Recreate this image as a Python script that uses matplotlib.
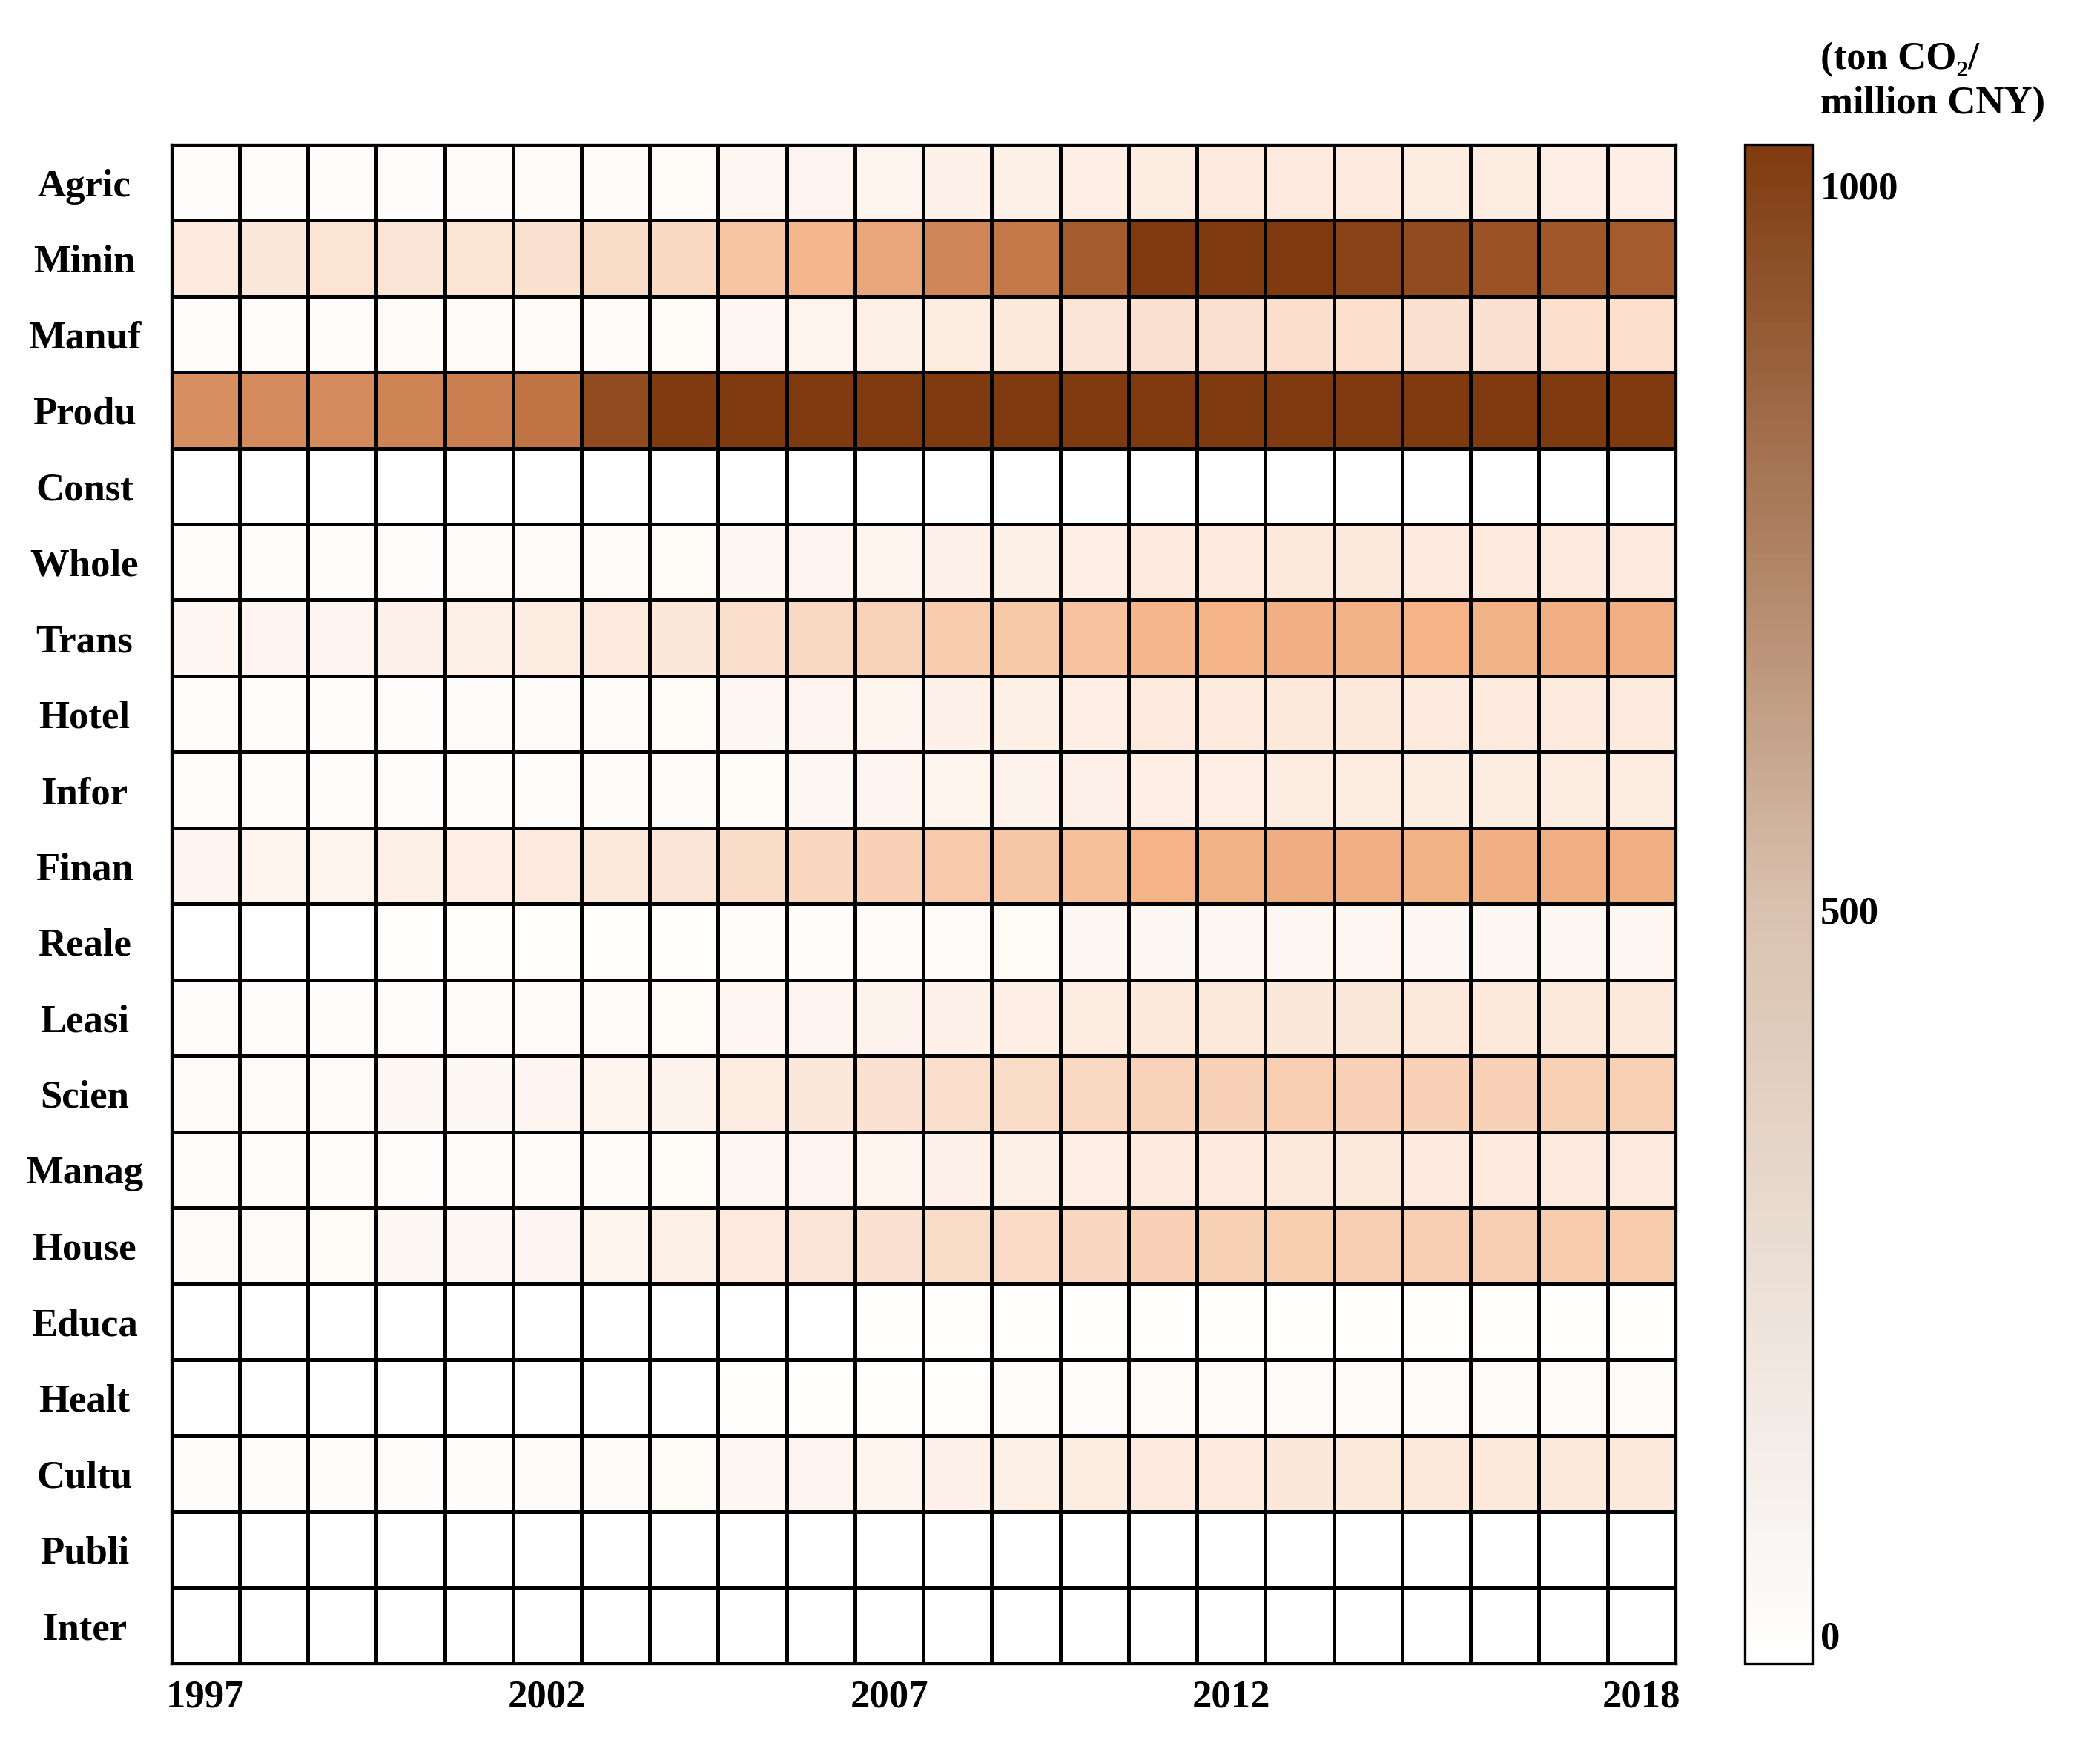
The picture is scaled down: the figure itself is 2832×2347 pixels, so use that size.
import numpy as np
import matplotlib
matplotlib.use("Agg")
import matplotlib.pyplot as plt
from matplotlib.colors import LinearSegmentedColormap, Normalize
import matplotlib.colorbar as mcb

plt.rcParams['font.family'] = ['Liberation Serif', 'DejaVu Serif']
plt.rcParams['font.weight'] = 'bold'

years = list(range(1997, 2019))
year_labels = ["1997", "2002", "2007", "2012", "2018"]
sectors = ["Agric", "Minin", "Manuf", "Produ", "Const", "Whole", "Trans", "Hotel",
           "Infor", "Finan", "Reale", "Leasi", "Scien", "Manag", "House", "Educa",
           "Healt", "Cultu", "Publi", "Inter"]

agric = [10,10,10,10,12,12,15,18,25,30,35,40,45,50,55,60,60,60,55,55,50,50]
minin = [60,70,80,75,80,90,110,130,230,300,380,550,620,800,1000,1000,1000,950,900,850,820,800]
manuf = [10,10,10,12,12,12,15,18,25,35,45,55,65,75,90,90,100,95,90,90,95,95]
produ = [500,520,520,560,580,650,900,1000,1000,1000,1000,1000,1000,1000,1000,1000,1000,1000,1000,1000,1000,1000]
const = [2,2,2,2,2,2,2,2,2,2,2,2,2,2,2,2,2,2,2,2,2,2]
whole = [10,10,10,10,12,12,15,18,22,28,35,40,45,50,60,60,65,65,60,60,60,60]
trans = [25,30,30,40,45,55,60,70,100,130,160,190,210,240,300,310,330,320,310,320,330,330]
hotel = [10,10,10,10,12,12,15,18,22,28,35,40,45,50,60,60,65,65,60,60,60,60]
infor = [8,8,8,8,10,10,12,15,18,22,28,32,38,42,50,50,55,55,52,52,55,55]
finan = [30,35,35,45,50,60,65,75,110,140,170,200,220,250,310,320,340,330,320,330,335,335]
reale = [3,3,3,4,4,5,5,6,8,10,12,15,18,20,25,22,25,25,22,25,25,25]
leasi = [10,10,10,10,12,12,15,18,24,30,36,42,48,55,65,65,70,68,65,65,65,65]
scien = [15,15,15,20,22,28,32,38,55,70,90,100,110,130,160,170,180,170,170,170,175,175]
manag = [10,10,10,10,12,12,15,18,22,28,35,40,45,50,60,60,65,65,60,60,60,60]
house = [15,15,18,22,25,30,35,45,60,75,90,110,120,140,170,175,185,180,180,180,190,190]
educa = [2,2,2,2,2,2,3,3,3,3,4,4,4,5,5,5,5,5,5,5,5,5]
healt = [2,2,2,2,2,3,3,3,4,5,6,7,8,9,12,12,14,13,12,12,12,12]
cultu = [8,8,8,10,10,12,14,16,22,28,34,40,45,52,62,62,68,66,64,64,66,66]
publi = [1,1,1,1,1,1,2,2,2,2,2,2,2,3,3,3,3,3,3,3,3,3]
inter = [1,1,1,1,1,1,1,1,1,1,1,1,1,2,2,2,2,2,2,2,2,2]

data = np.array([agric, minin, manuf, produ, const, whole, trans, hotel, infor, finan,
                 reale, leasi, scien, manag, house, educa, healt, cultu, publi, inter])

cell_cmap = LinearSegmentedColormap.from_list(
    "cells", [(0, "#ffffff"), (0.08, "#fbe3d3"), (0.3, "#f5b68a"),
              (0.6, "#c97c4e"), (1.0, "#7f3b0f")])
bar_cmap = LinearSegmentedColormap.from_list(
    "bar", [(0, "#ffffff"), (0.5, "#d9c1ae"), (1.0, "#7f3b0f")])

fig = plt.figure(figsize=(14.16, 11.735), dpi=200)
ax = fig.add_axes([0.0814, 0.044, 0.7166, 0.873])
ax.pcolormesh(data, cmap=cell_cmap, vmin=0, vmax=1000, edgecolors="black", linewidth=1.2)
ax.set_xlim(0, len(years))
ax.set_ylim(len(sectors), 0)
ax.set_yticks(np.arange(len(sectors)) + 0.5)
ax.set_yticklabels(sectors, fontsize=19, fontweight="bold", ha="center")
ax.tick_params(axis="y", pad=42)
xt = [years.index(int(y)) + 0.5 for y in year_labels]
ax.set_xticks(xt)
ax.set_xticklabels(year_labels, fontsize=19, fontweight="bold")
ax.tick_params(length=0)
ax.tick_params(axis="x", pad=8)
for s in ax.spines.values():
    s.set_linewidth(1.2)

cax = fig.add_axes([0.831, 0.044, 0.032, 0.873])
cb = mcb.ColorbarBase(cax, cmap=bar_cmap, norm=Normalize(vmin=-20, vmax=1028))
cb.set_ticks([0, 500, 1000])
cb.set_ticklabels(["0", "500", "1000"])
cb.ax.tick_params(length=0, labelsize=19, pad=4)
for t in cb.ax.get_yticklabels():
    t.set_fontweight("bold")
cb.outline.set_linewidth(1.2)
fig.text(0.867, 0.93, "(ton CO\u2082/\nmillion CNY)", fontsize=19, fontweight="bold",
         ha="left", va="bottom", linespacing=1.3)

fig.savefig("out.png", dpi=200)
